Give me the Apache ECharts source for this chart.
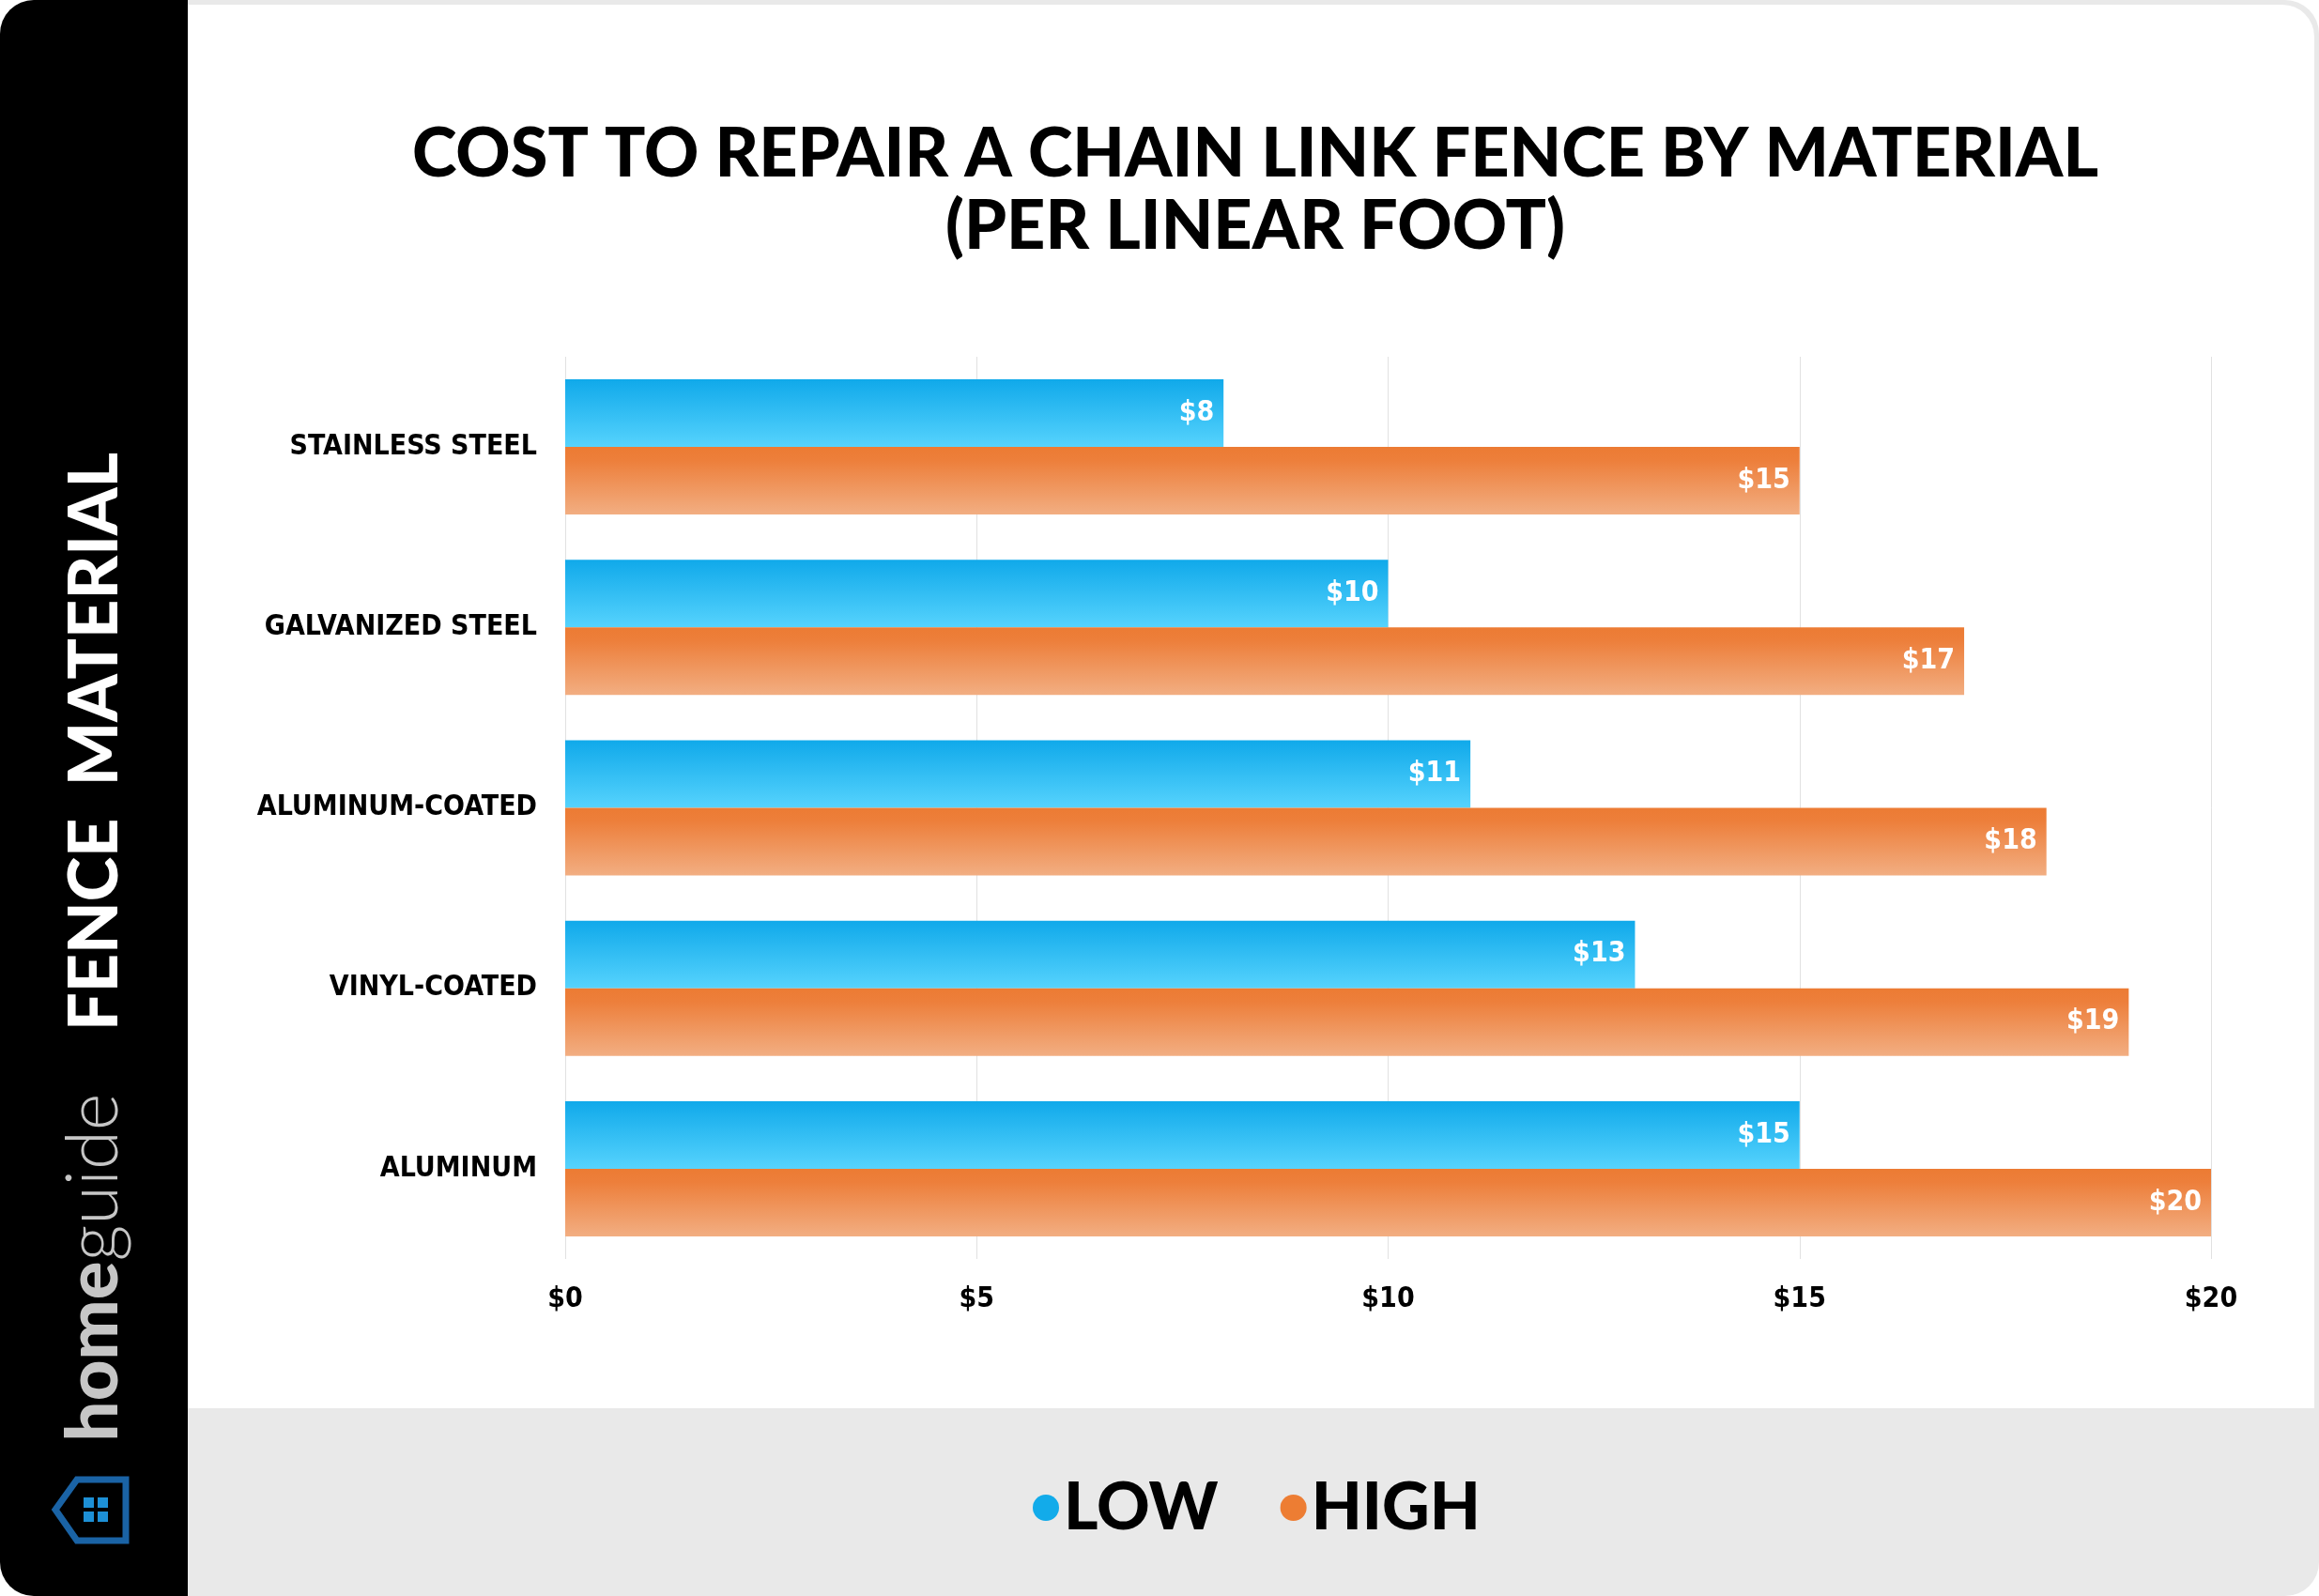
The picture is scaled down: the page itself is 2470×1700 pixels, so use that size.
<!DOCTYPE html>
<html>
<head>
<meta charset="utf-8">
<script src="https://cdn.jsdelivr.net/npm/echarts@6/dist/echarts.min.js"></script>
<style>
  html, body { margin: 0; padding: 0; background: #fff; }
  #chart { width: 2470px; height: 1700px; }
</style>
</head>
<body>
<div id="chart"></div>
<script>
// cost to repair a chain link fence, per linear foot
const categories = ['STAINLESS STEEL', 'GALVANIZED STEEL', 'ALUMINUM-COATED', 'VINYL-COATED', 'ALUMINUM']
const lowCost = [8, 10, 11, 13, 15]
const highCost = [15, 17, 18, 19, 20]
const seriesNames = ['LOW', 'HIGH']

const labelFont = '"Liberation Sans Narrow", "DejaVu Sans Condensed", sans-serif'
const headFont = 'Lato, "Open Sans", sans-serif'

const myChart = echarts.init(document.getElementById('chart'), null, { renderer: 'canvas' })

const blueFill = new echarts.graphic.LinearGradient(0, 0, 0, 1, [
  { offset: 0, color: '#10a9ea' },
  { offset: 1, color: '#56d3fd' }
])
const orangeFill = new echarts.graphic.LinearGradient(0, 0, 0, 1, [
  { offset: 0, color: '#ec7b33' },
  { offset: 0.2, color: '#ed7f3b' },
  { offset: 1, color: '#f2ae82' }
])

const valueLabel = {
  show: true,
  position: 'insideRight',
  distance: 10,
  color: '#fff',
  fontFamily: labelFont,
  fontWeight: 'bold',
  fontSize: 30,
  formatter: p => '$' + p.value
}

const options = {
  animation: false,
  backgroundColor: '#fff',
  graphic: [
    // card background
    { type: 'rect', z: -10, shape: { x: 0, y: 0, width: 2470, height: 1700, r: 36 }, style: { fill: '#e9e9e9' } },
    // white panel
    { type: 'rect', z: -9, shape: { x: 200, y: 5, width: 2265, height: 1495, r: [0, 34, 0, 0] }, style: { fill: '#fff' } },
    // black side bar
    { type: 'rect', z: -8, shape: { x: 0, y: 0, width: 200, height: 1700, r: [36, 0, 0, 36] }, style: { fill: '#000' } },
    // title
    {
      type: 'text', z: 10, x: 1337, y: 203,
      style: {
        text: 'COST TO REPAIR A CHAIN LINK FENCE BY MATERIAL\n(PER LINEAR FOOT)',
        align: 'center', verticalAlign: 'middle',
        fill: '#000', fontFamily: headFont, fontWeight: 900, fontSize: 72, lineHeight: 77
      }
    },
    // side label
    {
      type: 'text', z: 10, x: 102, y: 790, rotation: Math.PI / 2,
      style: {
        text: 'FENCE  MATERIAL',
        align: 'center', verticalAlign: 'middle',
        fill: '#fff', fontFamily: headFont, fontWeight: 900, fontSize: 72
      }
    },
    // brand
    {
      type: 'text', z: 10, x: 100, y: 1350, rotation: Math.PI / 2,
      style: {
        text: '{b|home}{l|guide}',
        align: 'center', verticalAlign: 'middle',
        rich: {
          b: { fill: '#c6c6c6', fontFamily: headFont, fontWeight: 900, fontSize: 76 },
          l: { fill: '#c6c6c6', fontFamily: headFont, fontWeight: 300, fontSize: 76 }
        }
      }
    },
    // house icon
    {
      type: 'polygon', z: 10,
      shape: { points: [[59, 1608], [82, 1576], [134, 1576], [134, 1641], [82, 1641]] },
      style: { fill: 'none', stroke: '#1a63a5', lineWidth: 7, lineJoin: 'miter' }
    },
    { type: 'rect', z: 10, shape: { x: 89, y: 1595, width: 11, height: 11 }, style: { fill: '#1d90d6' } },
    { type: 'rect', z: 10, shape: { x: 104, y: 1595, width: 11, height: 11 }, style: { fill: '#1d90d6' } },
    { type: 'rect', z: 10, shape: { x: 89, y: 1610, width: 11, height: 11 }, style: { fill: '#1d90d6' } },
    { type: 'rect', z: 10, shape: { x: 104, y: 1610, width: 11, height: 11 }, style: { fill: '#1d90d6' } }
  ],
  legend: {
    left: 1095,
    top: 1566,
    icon: 'circle',
    itemWidth: 28,
    itemHeight: 28,
    itemGap: 66,
    textStyle: {
      color: '#000',
      fontFamily: headFont,
      fontWeight: 900,
      fontSize: 70
    },
    data: [
      { name: seriesNames[0], itemStyle: { color: '#12abea' } },
      { name: seriesNames[1], itemStyle: { color: '#ed7d33' } }
    ]
  },
  grid: {
    left: 602,
    right: 115,
    top: 380,
    bottom: 359,
    containLabel: false
  },
  xAxis: {
    type: 'value',
    min: 0,
    max: 20,
    interval: 5,
    axisLine: { show: false },
    axisTick: { show: false },
    splitLine: { show: true, lineStyle: { color: '#e1e1e1', width: 1 } },
    axisLabel: {
      margin: 28,
      color: '#000',
      fontFamily: labelFont,
      fontWeight: 'bold',
      fontSize: 30,
      formatter: v => '$' + v
    }
  },
  yAxis: {
    type: 'category',
    inverse: true,
    data: categories,
    axisLine: { show: false },
    axisTick: { show: false },
    splitLine: { show: false },
    axisLabel: {
      margin: 30,
      color: '#000',
      fontFamily: labelFont,
      fontWeight: 'bold',
      fontSize: 30
    }
  },
  series: [
    {
      name: seriesNames[0],
      type: 'bar',
      barWidth: 72,
      barGap: '0%',
      itemStyle: { color: blueFill },
      label: valueLabel,
      data: lowCost
    },
    {
      name: seriesNames[1],
      type: 'bar',
      barWidth: 72,
      barGap: '0%',
      itemStyle: { color: orangeFill },
      label: valueLabel,
      data: highCost
    }
  ]
}

myChart.setOption(options)
</script>
</body>
</html>
